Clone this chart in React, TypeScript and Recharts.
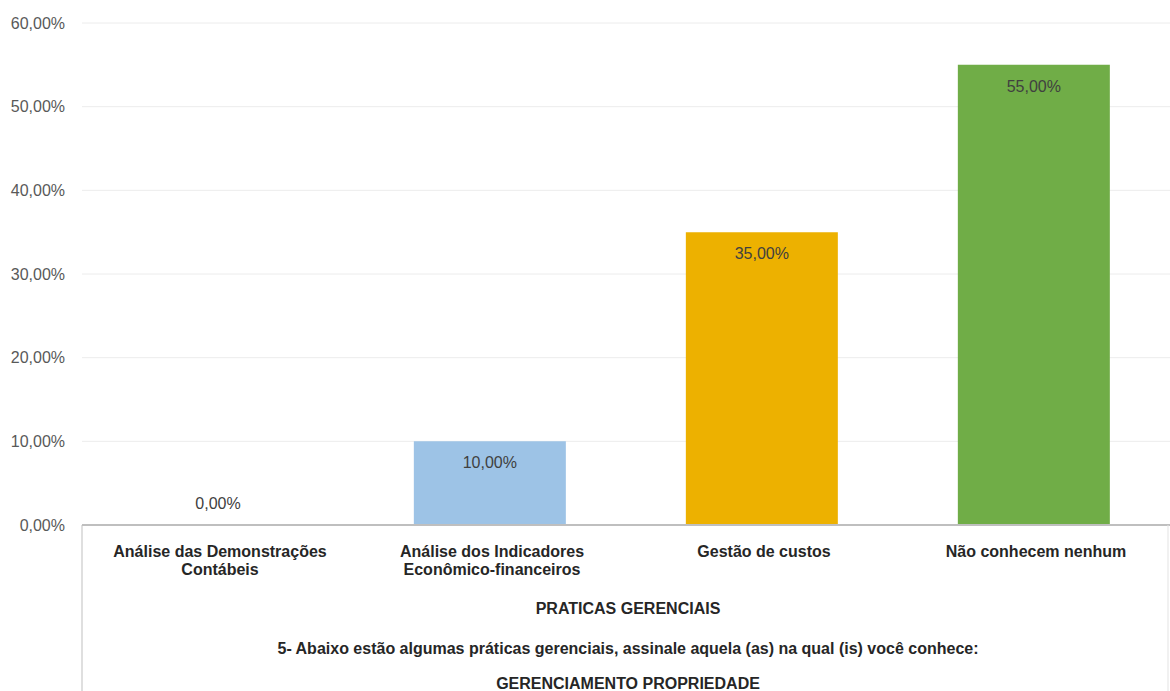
import { ComposedChart, Bar, Line, XAxis, YAxis, CartesianGrid, Cell, LabelList } from "recharts";

const categories = [
  "Análise das Demonstrações\nContábeis",
  "Análise dos Indicadores\nEconômico-financeiros",
  "Gestão de custos",
  "Não conhecem nenhum",
];
const values = [0, 0.1, 0.35, 0.55];
const barColors = ["#9DC3E6", "#9DC3E6", "#EDB100", "#70AD47"];
const yTicks = [0, 0.1, 0.2, 0.3, 0.4, 0.5, 0.6];
const groupRows = [
  "PRATICAS GERENCIAIS",
  "5- Abaixo estão algumas práticas gerenciais, assinale aquela (as) na qual (is) você conhece:",
  "GERENCIAMENTO PROPRIEDADE",
];

const data = categories.map((name, i) => ({ name, value: values[i] }));

const FONT = "'Liberation Sans', Arial, sans-serif";
const pct = (v: number) => `${(v * 100).toFixed(2).replace(".", ",")}%`;

function CategoryTick(props: any) {
  const { x, y, payload } = props;
  const lines = String(payload.value).split("\n");
  return (
    <g>
      {lines.map((ln, i) => (
        <text
          key={i}
          x={x + 2}
          y={y + 30 + i * 18}
          textAnchor="middle"
          fontSize={16}
          fontWeight="bold"
          fill="#262626"
          fontFamily={FONT}
        >
          {ln}
        </text>
      ))}
    </g>
  );
}

function GroupRows(props: any) {
  const { x, y, width, height } = props.viewBox;
  const rowY = [89, 129, 164];
  return (
    <g>
      <line x1={x} y1={y} x2={x} y2={y + height} stroke="#bfbfbf" />
      <line x1={x + width - 2} y1={y} x2={x + width - 2} y2={y + height} stroke="#e3e3e3" />
      {groupRows.map((t, i) => (
        <text
          key={i}
          x={x + width / 2 + 2}
          y={y + rowY[i]}
          textAnchor="middle"
          fontSize={16}
          fontWeight="bold"
          fill="#262626"
          fontFamily={FONT}
        >
          {t}
        </text>
      ))}
    </g>
  );
}

function ValueLabel(props: any) {
  const { x, y, width, value } = props;
  if (!value) return null;
  return (
    <text x={x + width / 2} y={y + 27} textAnchor="middle" fontSize={16} fill="#404040" fontFamily={FONT}>
      {pct(value)}
    </text>
  );
}

function ZeroLabel(props: any) {
  const { x, y, value } = props;
  if (value !== 0) return null;
  return (
    <text x={x} y={y - 16} textAnchor="middle" fontSize={16} fill="#404040" fontFamily={FONT}>
      {pct(value)}
    </text>
  );
}

export default function App() {
  return (
    <div style={{ position: "absolute", left: 0, top: 0, background: "#fff", fontFamily: FONT }}>
      <ComposedChart
        width={1170}
        height={691}
        data={data}
        margin={{ top: 23, right: 0, left: 0, bottom: 0 }}
        barCategoryGap="22%"
      >
        <CartesianGrid vertical={false} stroke="#ececec" />
        <XAxis
          dataKey="name"
          height={166}
          interval={0}
          tickLine={false}
          tickSize={0}
          axisLine={{ stroke: "#bfbfbf", strokeWidth: 2 }}
          tick={<CategoryTick />}
          label={{ content: (p: any) => <GroupRows {...p} /> }}
        />
        <YAxis
          width={82}
          domain={[0, 0.6]}
          ticks={yTicks}
          axisLine={false}
          tickLine={false}
          tickSize={0}
          tickMargin={17}
          tickFormatter={pct}
          tick={{ fill: "#595959", fontSize: 16, fontFamily: FONT }}
        />
        <Bar dataKey="value" isAnimationActive={false}>
          {data.map((_, i) => (
            <Cell key={i} fill={barColors[i]} />
          ))}
          <LabelList dataKey="value" content={<ValueLabel />} />
        </Bar>
        <Line dataKey="value" stroke="none" dot={false} activeDot={false} isAnimationActive={false}>
          <LabelList dataKey="value" content={<ZeroLabel />} />
        </Line>
      </ComposedChart>
    </div>
  );
}
